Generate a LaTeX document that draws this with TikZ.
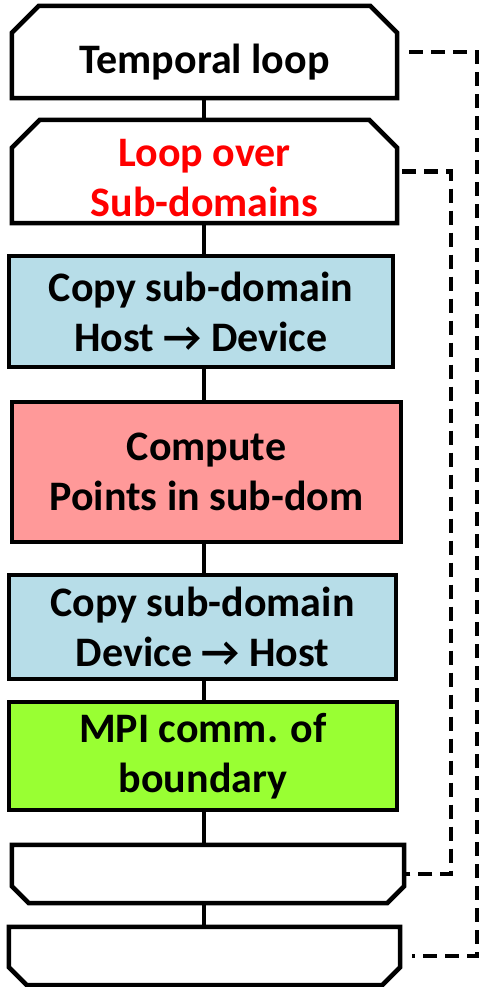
\documentclass[tikz,border=0pt]{standalone}
\usepackage{fontspec}
\setmainfont{Carlito}

\definecolor{hostblue}{RGB}{183,221,232}
\definecolor{computered}{RGB}{255,153,153}
\definecolor{mpigreen}{RGB}{153,255,51}

% outline of a loop box with the two top (head) or bottom (tail) corners cut
\newcommand{\headoutline}[2]{%
  \draw [boxline] (#1.south west) -- ([yshift=-#2]#1.north west) -- ([xshift=#2]#1.north west)
    -- ([xshift=-#2]#1.north east) -- ([yshift=-#2]#1.north east) -- (#1.south east) -- cycle;}
\newcommand{\tailoutline}[2]{%
  \draw [boxline] (#1.north west) -- ([yshift=#2]#1.south west) -- ([xshift=#2]#1.south west)
    -- ([xshift=-#2]#1.south east) -- ([yshift=#2]#1.south east) -- (#1.north east) -- cycle;}

\tikzset{
  boxline/.style={line width=4.5pt, line join=miter},
  flowtext/.style={font=\bfseries\fontsize{42}{50}\selectfont, align=center},
  flowbox/.style={draw, boxline, rectangle, flowtext, inner sep=0pt},
  loopbox/.style={rectangle, flowtext, inner sep=0pt},
  spine/.style={line width=4.5pt},
  loopline/.style={line width=4.5pt, dash pattern=on 14pt off 8pt},
}

\begin{document}
\begin{tikzpicture}[x=1pt,y=1pt]

	\useasboundingbox (0,0) rectangle (479,987);

	% loop heads
	\node [loopbox, minimum width=385pt, minimum height=92pt,
	       label={[flowtext, yshift=-10pt]center:Temporal loop}] (temporal) at (204.5,935) {};
	\node [loopbox, minimum width=385pt, minimum height=103pt,
	       label={[flowtext, text=red, yshift=-7pt]center:Loop over\\Sub-domains}] (subloop) at (204.5,815.5) {};
	\headoutline{temporal}{27pt}
	\headoutline{subloop}{28pt}

	% work inside the loops
	\node [flowbox, fill=hostblue, minimum width=384pt, minimum height=111pt] (copyHD) at (201,675.5) {Copy sub-domain\\Host → Device};
	\node [flowbox, fill=computered, minimum width=389pt, minimum height=140pt] (compute) at (206.5,515) {Compute\\Points in sub-dom};
	\node [flowbox, fill=hostblue, minimum width=387pt, minimum height=104pt] (copyDH) at (202.5,360) {Copy sub-domain\\Device → Host};
	\node [flowbox, fill=mpigreen, minimum width=388pt, minimum height=108pt] (mpi) at (203,231) {MPI comm. of\\boundary};

	% loop tails
	\node [loopbox, minimum width=392pt, minimum height=58pt] (subend) at (208,113) {};
	\node [loopbox, minimum width=391pt, minimum height=58pt] (tempend) at (204.5,31) {};
	\tailoutline{subend}{17pt}
	\tailoutline{tempend}{18pt}

	\coordinate (spinex) at (204,0);
	\coordinate (outerrail) at (477,0);
	\coordinate (innerrail) at (451,0);

	\foreach \a/\b in {temporal/subloop, subloop/copyHD, copyHD/compute, compute/copyDH, copyDH/mpi, mpi/subend, subend/tempend}
		\draw [spine] (\a.south -| spinex) -- (\b.north -| spinex);

	% back edges of the loops
	\draw [loopline] ([xshift=12pt]temporal.east) -- (temporal.east -| outerrail) |- ([xshift=12pt]tempend.east);
	\draw [loopline] ([xshift=5pt]subloop.east) -- (subloop.east -| innerrail) |- ([xshift=1pt]subend.east);

\end{tikzpicture}
\end{document}
